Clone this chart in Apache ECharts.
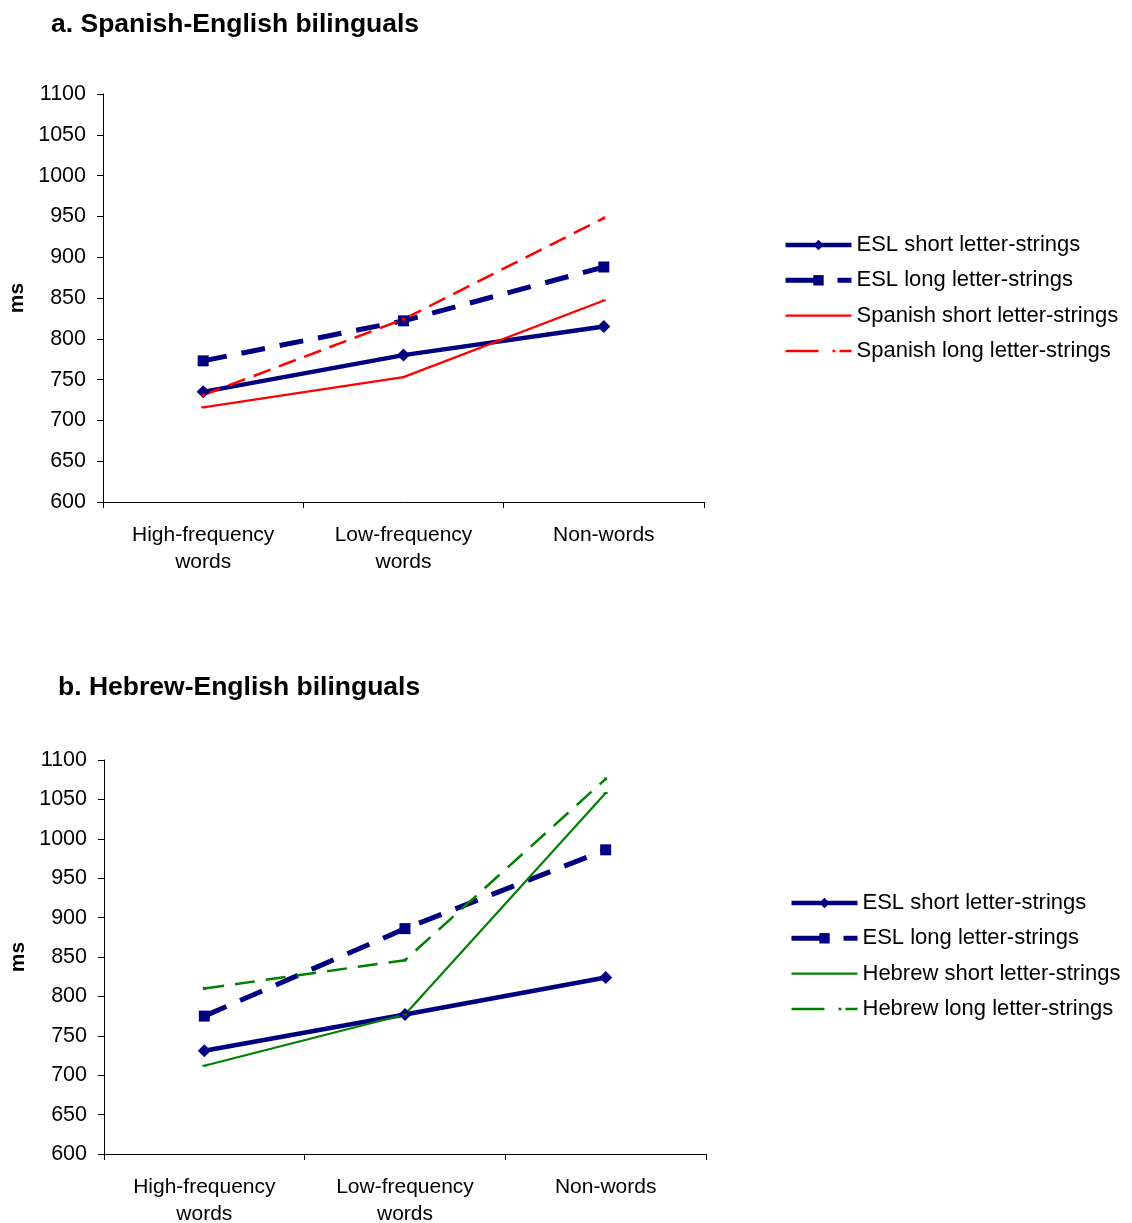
<!DOCTYPE html>
<html>
<head>
<meta charset="utf-8">
<title>Lexical decision latencies</title>
<script src="https://cdn.jsdelivr.net/npm/echarts@6/dist/echarts.min.js"></script>
<style>
  html, body { margin: 0; padding: 0; background: #fff; }
  #chart { width: 1132px; height: 1223px; }
</style>
</head>
<body>
<div id="chart"></div>
<script>
// Word-type conditions on the x axis
const categories = ['High-frequency\nwords', 'Low-frequency\nwords', 'Non-words'];
const yTicks = { min: 600, max: 1100, step: 50 };

// Panel a: Spanish-English bilinguals (ms)
const spanishEslShort = [735, 780, 815];
const spanishEslLong = [773, 822, 888];
const spanishShort = [716, 753, 847];
const spanishLong = [731, 824, 948];

// Panel b: Hebrew-English bilinguals (ms)
const hebrewEslShort = [731, 777, 824];
const hebrewEslLong = [775, 886, 986];
const hebrewShort = [712, 777, 1058];
const hebrewLong = [810, 846, 1076];

const NAVY = '#000080';
const RED = '#ff0000';
const GREEN = '#008000';
const FONT = '"Liberation Sans", Arial, sans-serif';

const chart = echarts.init(document.getElementById('chart'), null, { renderer: 'canvas' });

function xAxisFor(gridIndex) {
  return {
    type: 'category',
    gridIndex,
    data: categories,
    boundaryGap: true,
    axisLine: { lineStyle: { color: '#000', width: 1 } },
    axisTick: { show: true, length: 6, interval: 0, lineStyle: { color: '#000' } },
    axisLabel: { color: '#000', fontSize: 21, fontFamily: FONT, lineHeight: 27, margin: 20, interval: 0 },
    splitLine: { show: false }
  };
}

function yAxisFor(gridIndex) {
  return {
    type: 'value',
    gridIndex,
    min: yTicks.min,
    max: yTicks.max,
    interval: yTicks.step,
    name: 'ms',
    nameLocation: 'middle',
    nameGap: 75,
    nameRotate: 90,
    nameTextStyle: { color: '#000', fontSize: 21, fontWeight: 'bold', fontFamily: FONT },
    axisLine: { show: true, lineStyle: { color: '#000', width: 1 } },
    axisTick: { show: true, length: 6, lineStyle: { color: '#000' } },
    axisLabel: { color: '#000', fontSize: 21.5, fontFamily: FONT, margin: 17, formatter: v => String(v) },
    splitLine: { show: false }
  };
}

const ESL_SHORT = 'ESL short letter-strings';
const ESL_LONG = 'ESL long letter-strings';

function eslShort(idx, data) {
  return {
    name: ESL_SHORT, type: 'line', xAxisIndex: idx, yAxisIndex: idx, data,
    symbol: 'diamond', symbolSize: 13,
    itemStyle: { color: NAVY },
    lineStyle: { color: NAVY, width: 4.5, type: 'solid' }
  };
}
function eslLong(idx, data) {
  return {
    name: ESL_LONG, type: 'line', xAxisIndex: idx, yAxisIndex: idx, data,
    symbol: 'rect', symbolSize: 11,
    itemStyle: { color: NAVY },
    lineStyle: { color: NAVY, width: 5, type: [24, 15] }
  };
}
function thinShort(name, color, idx, data) {
  return {
    name, type: 'line', xAxisIndex: idx, yAxisIndex: idx, data,
    symbol: 'rect', symbolSize: [4, 2],
    itemStyle: { color },
    lineStyle: { color, width: 2.2, type: 'solid' }
  };
}
function thinLong(name, color, idx, data, dash) {
  return {
    name, type: 'line', xAxisIndex: idx, yAxisIndex: idx, data,
    symbol: 'rect', symbolSize: 3,
    itemStyle: { color },
    lineStyle: { color, width: 2.5, type: dash }
  };
}

// Legend entries with their own key styling
function legendItems(shortName, longName, color) {
  return [
    { name: ESL_SHORT, lineStyle: { width: 4.5, type: 'solid' } },
    { name: ESL_LONG, lineStyle: { width: 5, type: [36, 16] } },
    { name: shortName, itemStyle: { opacity: 0 }, lineStyle: { width: 2.2, type: 'solid', color } },
    { name: longName, itemStyle: { opacity: 0 }, lineStyle: { width: 2.5, type: [33, 14, 3, 4], color } }
  ];
}

function legendFor(data, left, top) {
  return {
    orient: 'vertical',
    left, top,
    padding: 0,
    itemWidth: 66,
    itemHeight: 13,
    itemGap: 13.3,
    selectedMode: false,
    textStyle: { color: '#000', fontSize: 22, lineHeight: 22, fontFamily: FONT },
    data
  };
}

chart.setOption({
  animation: false,
  backgroundColor: '#fff',
  title: [
    {
      text: 'a. Spanish-English bilinguals', left: 51, top: 11, padding: 0,
      textStyle: { color: '#000', fontSize: 26.5, fontWeight: 'bold', fontFamily: FONT }
    },
    {
      text: 'b. Hebrew-English bilinguals', left: 58, top: 674, padding: 0,
      textStyle: { color: '#000', fontSize: 26.5, fontWeight: 'bold', fontFamily: FONT }
    }
  ],
  grid: [
    { left: 103, top: 94, width: 601, height: 408, containLabel: false, outerBoundsMode: 'none' },
    { left: 104, top: 760, width: 602, height: 394, containLabel: false, outerBoundsMode: 'none' }
  ],
  legend: [
    legendFor(legendItems('Spanish short letter-strings', 'Spanish long letter-strings', RED), 783, 234),
    legendFor(legendItems('Hebrew short letter-strings', 'Hebrew long letter-strings', GREEN), 789, 892)
  ],
  xAxis: [xAxisFor(0), xAxisFor(1)],
  yAxis: [yAxisFor(0), yAxisFor(1)],
  series: [
    eslShort(0, spanishEslShort),
    eslLong(0, spanishEslLong),
    thinShort('Spanish short letter-strings', RED, 0, spanishShort),
    thinLong('Spanish long letter-strings', RED, 0, spanishLong, [18, 9]),
    eslShort(1, hebrewEslShort),
    eslLong(1, hebrewEslLong),
    thinShort('Hebrew short letter-strings', GREEN, 1, hebrewShort),
    thinLong('Hebrew long letter-strings', GREEN, 1, hebrewLong, [20, 11])
  ]
});
</script>
</body>
</html>
